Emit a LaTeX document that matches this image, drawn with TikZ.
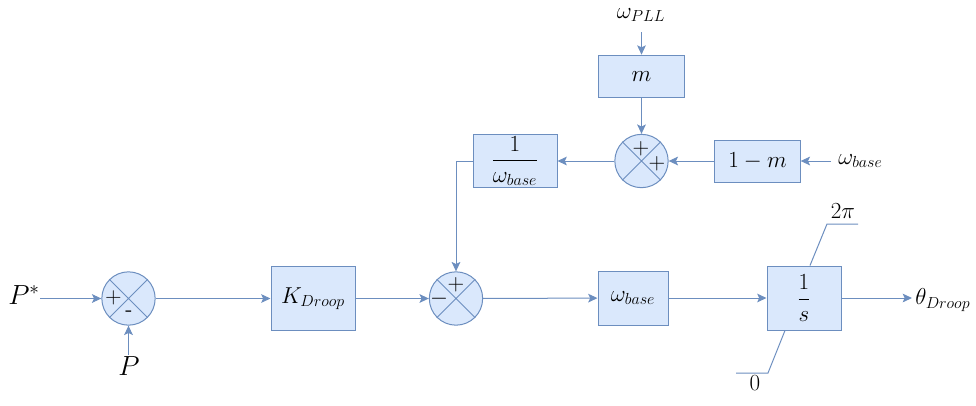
\documentclass[tikz,border=0pt]{standalone}
\usepackage{amsmath}
\usetikzlibrary{arrows.meta}
\definecolor{blkfill}{HTML}{DAE8FC}
\definecolor{blkline}{HTML}{6C8EBF}
\begin{document}
\begin{tikzpicture}[x=0.75pt,y=-0.75pt,
  font=\fontsize{17}{20}\selectfont,
  blk/.style={draw=blkline,fill=blkfill,line width=0.75pt,rectangle,inner sep=0pt},
  sumc/.style={draw=blkline,fill=blkfill,line width=0.75pt,circle,minimum size=40pt,inner sep=0pt},
  wire/.style={draw=blkline,line width=0.75pt},
  sig/.style={wire,-{Stealth[length=7pt,width=6.5pt,inset=1.5pt]}},
  lbl/.style={inner sep=0pt},
  biglbl/.style={inner sep=0pt,font=\fontsize{20}{24}\selectfont}]
\useasboundingbox (0,0) rectangle (976,405);

% summing junctions with crossed circles
\newcommand{\crossjunction}[2]{%
  \node[sumc] (#1) at #2 {};
  \draw[wire] (#1.45) -- (#1.225) (#1.135) -- (#1.315);}
\crossjunction{s1}{(128.5,298.5)}
\crossjunction{s2}{(456,298.5)}
\crossjunction{s3}{(641.5,161)}

% blocks
\node[blk,minimum width=63pt,minimum height=47.5pt] (kd) at (313,298.5) {$K_{Droop}$};
\node[blk,minimum width=52.5pt,minimum height=40.5pt] (wb) at (633,298) {$\omega_{base}$};
\node[blk,minimum width=55.5pt,minimum height=48pt] (integ) at (804,298) {};
\node at (integ.center) {$\dfrac{1}{s}$};
\node[blk,minimum width=63pt,minimum height=40pt] (inv) at (515,161) {};
\node at (inv.center) {$\dfrac{1}{\omega_{base}}$};
\node[blk,minimum width=64pt,minimum height=31.5pt] (om) at (757.5,161) {$1-m$};
\node[blk,minimum width=64pt,minimum height=32pt] (m) at (641.5,76.5) {$m$};

% signal labels
\node[biglbl] (pstar) at (24,295) {$P^{*}$};
\node[biglbl] (p) at (129,366) {$P$};
\node[lbl,anchor=west] (theta) at (915,300) {$\theta_{Droop}$};
\node[lbl,anchor=west] (wbin) at (838,161) {$\omega_{base}$};
\node[lbl] (wpll) at (641,15) {$\omega_{PLL}$};
\node[lbl] (lim2) at (843,211) {$2\pi$};
\node[lbl] (lim0) at (755,383) {$0$};

% signs
\node[lbl,font=\sffamily\fontsize{17}{20}\selectfont] at (113.5,298) {+};
\node[lbl,font=\sffamily\fontsize{17}{20}\selectfont] at (129,314) {-};
\node[lbl] at (456,285) {$+$};
\node[lbl] at (439,298.5) {$-$};
\node[lbl] at (641,149) {$+$};
\node[lbl] at (657,164) {$+$};

% free ends of input and output wires
\coordinate (pin) at (40,298.5);
\coordinate (pinb) at (128.5,355);
\coordinate (thout) at (912,298);
\coordinate (wbe) at (831,161);
\coordinate (wpe) at (641.5,32);

% connectors
\draw[sig] (pin) -- (s1);
\draw[sig] (pinb) -- (s1);
\draw[sig] (s1) -- (kd);
\draw[sig] (kd) -- (s2);
\draw[sig] (s2) -- (wb);
\draw[sig] (wb) -- (integ);
\draw[sig] (integ) -- (thout);
\draw[sig] (wpe) -- (m);
\draw[sig] (m) -- (s3);
\draw[sig] (wbe) -- (om);
\draw[sig] (om) -- (s3);
\draw[sig] (s3) -- (inv);
\draw[sig] (inv.west) -| (s2);

% integrator limits
\draw[wire] (integ.north -| 810,0) -- (827,224) -- (858,224);
\draw[wire] (integ.south -| 785,0) -- (768,373) -- (736,373);
\end{tikzpicture}
\end{document}
